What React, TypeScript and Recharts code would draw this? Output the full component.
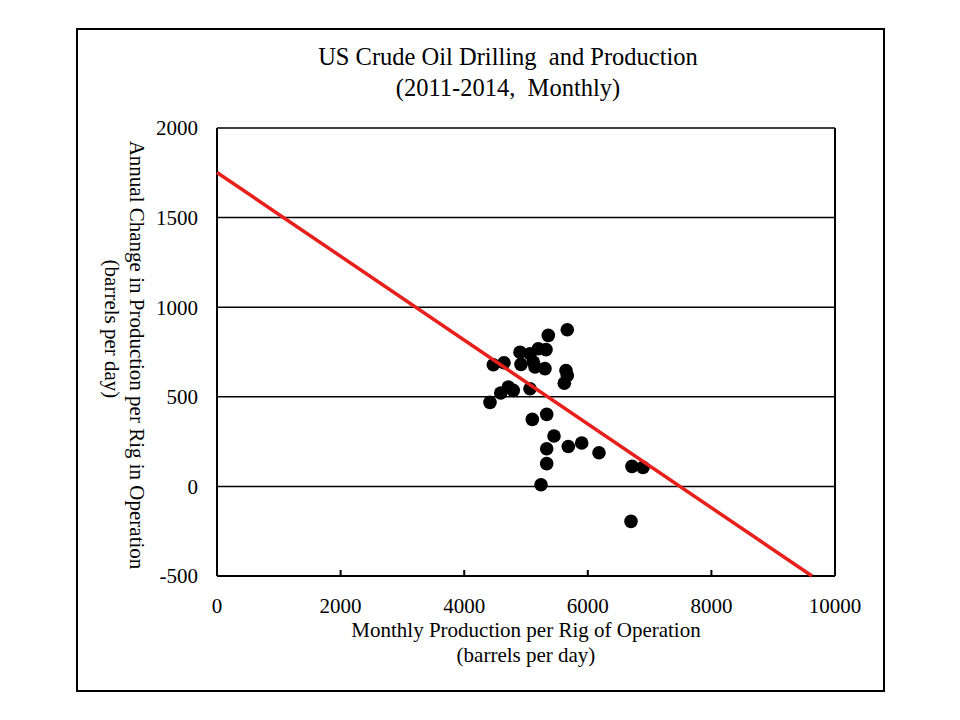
import { ScatterChart, Scatter, XAxis, YAxis, CartesianGrid, ReferenceLine } from "recharts";

// monthly production per rig (barrels per day)
const prodPerRig = [
  5668, 5361, 4903, 5199, 5324, 5065, 5118, 5307, 5146, 4471, 4644,
  4919, 5647, 5668, 5620, 4714, 4794, 4591, 5065, 4417, 5102, 5335,
  5453, 5335, 5684, 5901, 6181, 5335, 5243, 6715, 6893, 6699,
];
// annual change in production per rig (barrels per day)
const annualChange = [
  874, 843, 749, 768, 763, 740, 694, 657, 666, 679, 690,
  681, 647, 619, 576, 554, 536, 521, 545, 469, 374, 402,
  281, 210, 223, 242, 188, 127, 9, 112, 106, -195,
];

// fitted trend line end points
const trendX = [0, 9628];
const trendY = [1752, -500];

const xTicks = [0, 2000, 4000, 6000, 8000, 10000];
const yTicks = [-500, 0, 500, 1000, 1500, 2000];

const points = prodPerRig.map((x, i) => ({ x, y: annualChange[i] }));
const trend = trendX.map((x, i) => ({ x, y: trendY[i] }));

const serif = "'Liberation Serif', 'Times New Roman', serif";

const Dot = (props: any) => <circle cx={props.cx} cy={props.cy} r={6.8} fill="#000" />;

// bottom tick: small inward mark on the axis plus the label below
const XTick = (props: any) => {
  const { x, y, payload } = props;
  const axisY = y - 22;
  return (
    <g>
      <line x1={x} x2={x} y1={axisY} y2={axisY - 6} stroke="#000" strokeWidth={2} />
      <text x={x} y={y} dy="0.71em" textAnchor="middle" fill="#000" fontSize={21} fontFamily={serif}>
        {payload.value}
      </text>
    </g>
  );
};

export default function App() {
  return (
    <div style={{ position: "absolute", left: 0, top: 0, width: 960, height: 720, background: "#fff", fontFamily: serif }}>
      <div
        style={{
          position: "absolute",
          left: 76,
          top: 28,
          width: 809,
          height: 664,
          border: "2px solid #000",
          boxSizing: "border-box",
        }}
      />
      <div style={{ position: "absolute", left: 208, top: 41, width: 600, textAlign: "center", fontSize: 24.5, lineHeight: "31px", color: "#000" }}>
        US Crude Oil Drilling&nbsp; and Production
        <br />
        (2011-2014,&nbsp; Monthly)
      </div>

      <ScatterChart
        width={960}
        height={720}
        margin={{ top: 128, right: 125, bottom: 114, left: 157 }}
        style={{ position: "absolute", left: 0, top: 0 }}
      >
        <CartesianGrid vertical={false} stroke="#000" strokeWidth={1.5} />
        <XAxis
          type="number"
          dataKey="x"
          domain={[0, 10000]}
          ticks={xTicks}
          height={30}
          stroke="#000"
          strokeWidth={2}
          tickLine={false}
          tickSize={0}
          tickMargin={22}
          tick={XTick}
        />
        <YAxis
          type="number"
          dataKey="y"
          domain={[-500, 2000]}
          ticks={yTicks}
          width={60}
          stroke="#000"
          strokeWidth={2}
          tickLine={false}
          tickSize={0}
          tickMargin={19}
          tick={{ fill: "#000", fontSize: 21, fontFamily: serif }}
        />
        <ReferenceLine x={10000} stroke="#000" strokeWidth={2} />
        <Scatter data={points} shape={Dot} isAnimationActive={false} />
        <Scatter
          data={trend}
          line={{ stroke: "#e8201c", strokeWidth: 3.5 }}
          shape={() => null}
          isAnimationActive={false}
        />
      </ScatterChart>

      <div style={{ position: "absolute", left: 226, top: 618, width: 600, textAlign: "center", fontSize: 21, lineHeight: "25px", color: "#000" }}>
        Monthly Production per Rig of Operation
        <br />
        (barrels per day)
      </div>
      <div
        style={{
          position: "absolute",
          left: 125 - 300,
          top: 355 - 12,
          width: 600,
          height: 24,
          lineHeight: "24px",
          textAlign: "center",
          fontSize: 21,
          transform: "rotate(90deg)",
          transformOrigin: "50% 50%",
          color: "#000",
        }}
      >
        <div style={{ position: "absolute", left: 0, top: -12, width: 600 }}>Annual Change in Production per Rig in Operation</div>
        <div style={{ position: "absolute", left: -26, top: 13, width: 600 }}>(barrels per day)</div>
      </div>
    </div>
  );
}
